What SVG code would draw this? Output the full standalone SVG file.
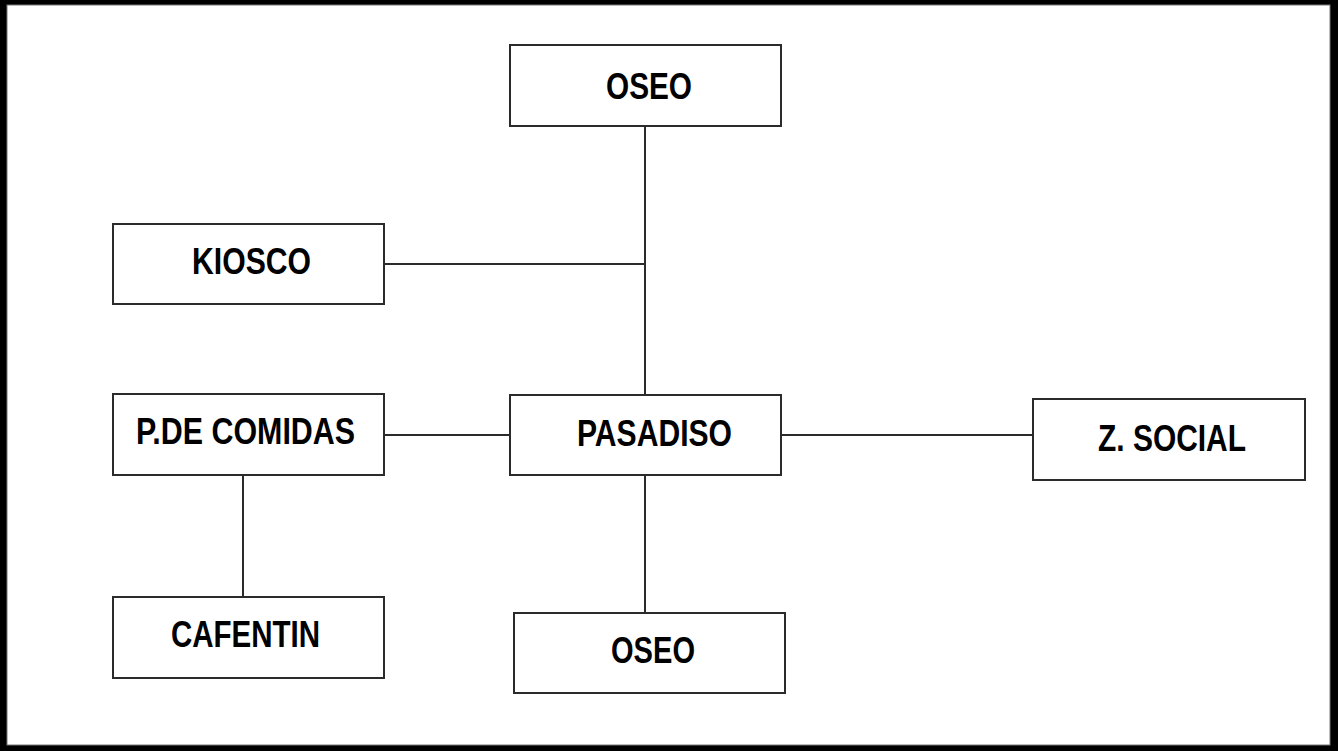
<svg xmlns="http://www.w3.org/2000/svg" width="1338" height="751" viewBox="0 0 1338 751">
<style>
.box{fill:#fff;stroke:#2b2b2b;stroke-width:2}
.lbl{font-family:"Liberation Sans",Arial,sans-serif;font-weight:bold;font-size:37px;fill:#000}
.conn{stroke:#2b2b2b;stroke-width:2;fill:none}
</style>
<rect x="0" y="0" width="1338" height="751" fill="#000"/>
<rect x="7" y="5" width="1323" height="740" fill="#fff" stroke="#777" stroke-width="1"/>
<g id="connectors">
<line class="conn" x1="645" y1="126" x2="645" y2="395"/>
<line class="conn" x1="384" y1="264" x2="645" y2="264"/>
<line class="conn" x1="384" y1="435" x2="510" y2="435"/>
<line class="conn" x1="781" y1="435" x2="1033" y2="435"/>
<line class="conn" x1="645" y1="475" x2="645" y2="613"/>
<line class="conn" x1="243" y1="475" x2="243" y2="597"/>
</g>
<g id="oseo-top">
<rect class="box" x="510" y="45" width="271" height="81"/>
<text class="lbl" x="606" y="99" textLength="86" lengthAdjust="spacingAndGlyphs">OSEO</text>
</g>
<g id="kiosco">
<rect class="box" x="113" y="224" width="271" height="80"/>
<text class="lbl" x="192" y="274" textLength="119" lengthAdjust="spacingAndGlyphs">KIOSCO</text>
</g>
<g id="p-de-comidas">
<rect class="box" x="113" y="394" width="271" height="81"/>
<text class="lbl" x="136" y="444" textLength="219" lengthAdjust="spacingAndGlyphs">P.DE COMIDAS</text>
</g>
<g id="pasadiso">
<rect class="box" x="510" y="395" width="271" height="80"/>
<text class="lbl" x="577" y="446" textLength="155" lengthAdjust="spacingAndGlyphs">PASADISO</text>
</g>
<g id="z-social">
<rect class="box" x="1033" y="399" width="272" height="81"/>
<text class="lbl" x="1098" y="451" textLength="148" lengthAdjust="spacingAndGlyphs">Z. SOCIAL</text>
</g>
<g id="cafentin">
<rect class="box" x="113" y="597" width="271" height="81"/>
<text class="lbl" x="171" y="647" textLength="149" lengthAdjust="spacingAndGlyphs">CAFENTIN</text>
</g>
<g id="oseo-bottom">
<rect class="box" x="514" y="613" width="271" height="80"/>
<text class="lbl" x="611" y="663" textLength="84" lengthAdjust="spacingAndGlyphs">OSEO</text>
</g>
</svg>
